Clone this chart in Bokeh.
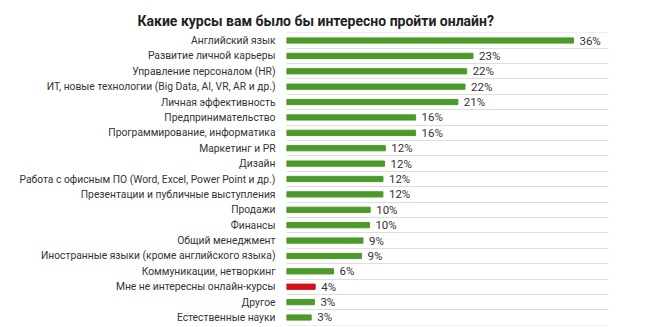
from bokeh.plotting import figure
from bokeh.models import ColumnDataSource, FixedTicker
from bokeh.embed import file_html
from bokeh.resources import INLINE
from bokeh.core.properties import value

title_text = "Какие курсы вам было бы интересно пройти онлайн?"
categories = [
    "Английский язык",
    "Развитие личной карьеры",
    "Управление персоналом (HR)",
    "ИТ, новые технологии (Big Data, AI, VR, AR и др.)",
    "Личная эффективность",
    "Предпринимательство",
    "Программирование, информатика",
    "Маркетинг и PR",
    "Дизайн",
    "Работа с офисным ПО (Word, Excel, Power Point и др.)",
    "Презентации и публичные выступления",
    "Продажи",
    "Финансы",
    "Общий менеджмент",
    "Иностранные языки (кроме английского языка)",
    "Коммуникации, нетворкинг",
    "Мне не интересны онлайн-курсы",
    "Другое",
    "Естественные науки",
]
values = [36.0, 23.4, 22.6, 22.4, 21.5, 16.2, 16.2, 12.4, 12.3, 12.1, 12.1,
          10.5, 10.4, 9.6, 9.4, 5.9, 3.6, 3.5, 3.1]
labels = ["36%", "23%", "22%", "22%", "21%", "16%", "16%", "12%", "12%", "12%", "12%",
          "10%", "10%", "9%", "9%", "6%", "4%", "3%", "3%"]
highlight = "Мне не интересны онлайн-курсы"

GREEN = "#4c9a2a"
RED = "#d0121b"
TEXT = "#333333"
FONT = "Roboto"

n = len(categories)
ypos = [n - 1 - i for i in range(n)]
colors = [RED if c == highlight else GREEN for c in categories]

src = ColumnDataSource(dict(y=ypos, v=values, lab=labels, c=colors, cat=categories))

p = figure(width=650, height=327, output_backend="svg", toolbar_location=None,
           x_range=(0, 40.4), y_range=(-0.52, n - 0.48),
           min_border_left=286, min_border_right=42, min_border_top=32, min_border_bottom=2)
p.outline_line_color = None
p.background_fill_color = "white"
p.border_fill_color = "white"

p.title.text = title_text
p.title.align = "left"
p.title.offset = -149
p.title.text_font = "Roboto"
p.title.text_font_size = "14px"
p.title.text_font_style = "bold"
p.title.text_color = "#222222"
p.title.standoff = 8

p.hbar(y="y", left=0, right="v", height=0.34, color="c", source=src)
p.text(x="v", y="y", text="lab", source=src, x_offset=6, text_baseline="middle",
       text_align="left", text_font=value(FONT), text_font_size="11.5px", text_color=TEXT)

p.xaxis.visible = False
p.xgrid.visible = False

p.yaxis.ticker = FixedTicker(ticks=ypos)
p.yaxis.major_label_overrides = {y: c for y, c in zip(ypos, categories)}
p.yaxis.axis_line_color = None
p.yaxis.major_tick_line_color = None
p.yaxis.minor_tick_line_color = None
p.yaxis.major_tick_out = 0
p.yaxis.major_tick_in = 0
p.yaxis.major_label_standoff = 11
p.yaxis.major_label_text_font = FONT
p.yaxis.major_label_text_font_size = "10.3px"
p.yaxis.major_label_text_color = TEXT

p.ygrid.ticker = FixedTicker(ticks=[k - 0.5 for k in range(n + 1)])
p.ygrid.grid_line_color = "#dddddd"
p.ygrid.grid_line_width = 1

open("out.html", "w").write(file_html(p, INLINE))
